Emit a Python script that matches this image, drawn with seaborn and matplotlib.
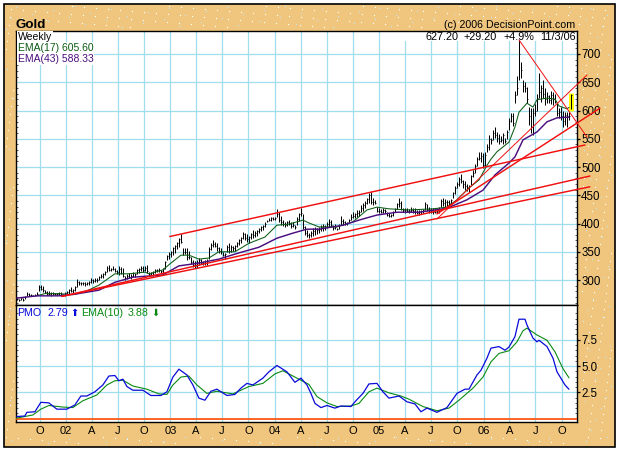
import pandas as pd
import numpy as np
import matplotlib
matplotlib.use('Agg')
import matplotlib.pyplot as plt
from matplotlib.patches import Rectangle
import seaborn as sns

# weekly bars, 10 weeks per row
high = [268, 267, 269, 268, 272, 278, 277, 275, 274, 275,
        278, 291, 292, 290, 283, 281, 280, 279, 278, 277,
        277, 279, 278, 276, 279, 280, 284, 287, 284, 290,
        301, 299, 296, 297, 296, 296, 298, 303, 302, 304,
        303, 308, 311, 312, 316, 325, 326, 322, 325, 322,
        318, 324, 323, 321, 308, 311, 312, 310, 314, 313,
        320, 322, 325, 324, 324, 326, 315, 314, 316, 320,
        320, 321, 318, 322, 334, 345, 350, 352, 358, 362,
        368, 375, 381, 357, 356, 357, 352, 340, 336, 334,
        336, 339, 338, 334, 335, 337, 358, 366, 371, 368,
        366, 358, 356, 350, 348, 362, 366, 362, 360, 362,
        368, 372, 376, 385, 383, 381, 378, 384, 388, 386,
        388, 392, 396, 398, 403, 407, 409, 411, 412, 412,
        426, 420, 414, 406, 402, 404, 406, 402, 402, 398,
        412, 418, 427, 416, 396, 388, 384, 386, 392, 394,
        392, 393, 397, 400, 398, 402, 408, 406, 397, 400,
        392, 400, 413, 408, 404, 403, 408, 416, 420, 419,
        424, 424, 432, 436, 440, 446, 454, 456, 445, 441,
        430, 427, 426, 428, 426, 420, 418, 417, 422, 428,
        436, 445, 440, 428, 428, 427, 426, 429, 427, 428,
        424, 424, 424, 425, 438, 434, 430, 428, 428, 426,
        428, 430, 443, 446, 443, 442, 441, 444, 456, 466,
        473, 482, 488, 477, 476, 470, 468, 486, 494, 505,
        518, 527, 526, 524, 526, 540, 556, 552, 566, 571,
        562, 558, 555, 560, 552, 566, 586, 596, 596, 634,
        661, 725, 686, 654, 650, 642, 606, 604, 604, 612,
        630, 666, 645, 654, 640, 633, 628, 634, 632, 630,
        613, 605, 606, 600, 598, 598, 597, 629]
low = [264, 263, 265, 263, 267, 271, 272, 272, 271, 272,
       273, 281, 283, 279, 277, 274, 273, 272, 274, 273,
       273, 274, 273, 271, 272, 274, 276, 278, 277, 281,
       287, 291, 291, 291, 290, 292, 291, 294, 295, 296,
       296, 300, 303, 304, 309, 315, 316, 316, 317, 314,
       310, 309, 311, 305, 300, 301, 303, 302, 305, 306,
       310, 312, 316, 314, 316, 313, 308, 309, 308, 313,
       314, 315, 313, 312, 320, 335, 338, 340, 345, 348,
       355, 358, 365, 345, 346, 336, 338, 328, 323, 322,
       322, 327, 328, 326, 327, 326, 338, 354, 358, 358,
       352, 348, 346, 342, 338, 350, 348, 350, 351, 352,
       358, 362, 366, 372, 370, 368, 366, 372, 374, 376,
       378, 384, 387, 388, 394, 402, 404, 405, 406, 406,
       411, 402, 398, 396, 394, 396, 397, 392, 393, 391,
       397, 404, 414, 390, 380, 376, 375, 376, 378, 380,
       382, 384, 386, 386, 388, 392, 394, 394, 388, 390,
       388, 391, 398, 398, 398, 397, 403, 406, 410, 410,
       411, 414, 420, 422, 428, 434, 436, 434, 433, 434,
       420, 419, 418, 418, 419, 413, 412, 412, 414, 420,
       426, 430, 424, 420, 419, 420, 418, 420, 418, 417,
       416, 415, 416, 418, 424, 422, 418, 418, 416, 418,
       418, 419, 430, 431, 430, 431, 432, 434, 445, 453,
       462, 466, 472, 463, 460, 458, 456, 468, 482, 490,
       502, 512, 508, 498, 502, 526, 530, 540, 548, 552,
       544, 540, 544, 541, 542, 549, 565, 580, 572, 613,
       628, 654, 657, 632, 632, 613, 575, 560, 557, 590,
       600, 622, 615, 622, 610, 613, 614, 612, 610, 613,
       590, 586, 583, 571, 575, 571, 583, 603]
close = [266, 264, 268, 265, 270, 276, 274, 273, 272, 274,
         276, 288, 285, 282, 279, 276, 275, 277, 275, 275,
         276, 277, 275, 274, 277, 278, 282, 280, 282, 288,
         296, 294, 294, 294, 293, 295, 296, 300, 298, 300,
         300, 305, 308, 310, 314, 322, 318, 320, 319, 316,
         314, 320, 313, 308, 303, 308, 306, 308, 312, 310,
         318, 320, 322, 318, 322, 316, 310, 312, 314, 318,
         317, 318, 316, 320, 332, 342, 346, 350, 356, 360,
         366, 372, 368, 350, 350, 340, 340, 332, 326, 330,
         332, 336, 331, 330, 333, 334, 355, 362, 364, 360,
         356, 352, 350, 344, 346, 358, 352, 358, 356, 360,
         366, 370, 374, 382, 374, 372, 376, 382, 380, 384,
         386, 390, 394, 396, 400, 405, 407, 409, 408, 410,
         416, 406, 402, 400, 398, 402, 400, 396, 398, 394,
         408, 416, 418, 394, 384, 380, 380, 384, 386, 390,
         388, 390, 394, 396, 394, 400, 402, 398, 392, 394,
         390, 398, 404, 402, 400, 401, 406, 412, 414, 416,
         418, 420, 428, 432, 436, 444, 450, 438, 438, 436,
         423, 422, 420, 424, 422, 415, 414, 415, 420, 426,
         434, 436, 426, 424, 424, 423, 422, 424, 422, 420,
         418, 420, 422, 424, 434, 426, 422, 420, 420, 420,
         422, 426, 440, 436, 438, 438, 436, 442, 454, 462,
         470, 478, 476, 470, 466, 464, 466, 484, 490, 502,
         514, 516, 520, 504, 522, 536, 550, 548, 560, 556,
         552, 546, 548, 556, 546, 562, 582, 590, 578, 628,
         640, 700, 672, 644, 640, 620, 590, 570, 596, 600,
         622, 632, 640, 630, 620, 626, 618, 628, 620, 616,
         596, 598, 590, 582, 592, 590, 590, 627]
dates = pd.date_range(end='2006-11-03', periods=len(high), freq='7D')

# moving averages, read at the week numbers next to them
ema17_weeks = [10, 14, 21, 28, 34, 41, 49, 56, 64, 66, 73, 77, 82, 86, 91, 96, 101,
               109, 116, 124, 130, 136, 143, 146, 151, 160, 168, 175, 180, 186, 196, 208,
               215, 220, 226, 231, 235, 237, 240, 246, 249, 251, 255, 258, 260, 265, 269,
               271, 275, 276]
ema17 = [272, 276, 276, 274, 279, 291, 311, 311, 314, 311, 318, 330, 344, 344, 337, 339, 350,
         350, 365, 376, 397, 399, 406, 401, 394, 394, 403, 424, 429, 426, 424, 426,
         429, 442, 463, 477, 503, 514, 527, 544, 571, 597, 613, 606, 619, 622, 620,
         608, 603, 605.6]
ema43_weeks = [0, 10, 21, 29, 41, 49, 58, 73, 81, 91, 101, 111, 121, 130, 138, 145,
               151, 163, 171, 180, 190, 201, 215, 225, 233, 239, 246, 249, 253, 260, 265, 270, 276]
ema43 = [268, 272, 272, 275, 282, 296, 305, 309, 325, 330, 337, 348, 358, 374, 383, 390,
         390, 397, 406, 415, 420, 420, 427, 442, 459, 486, 507, 518, 548, 562, 580, 587, 588.33]

pmo_weeks = [0, 4, 5, 9, 12, 16, 20, 25, 29, 32, 35, 39, 43, 46, 49, 51, 53, 55, 58, 63, 67,
             72, 75, 78, 81, 85, 88, 91, 94, 97, 100, 105, 109, 112, 115, 118, 123, 126, 130,
             135, 139, 142, 145, 147, 149, 152, 155, 159, 162, 167, 169, 173, 176, 180, 183,
             186, 191, 195, 199, 202, 205, 210, 215, 220, 224, 226, 230, 232, 235, 237, 241, 244,
             246, 249, 251, 254, 255, 258, 260, 261, 265, 268, 270, 274, 276]
pmo = [0.2, 0.25, 0.6, 0.65, 1.55, 1.5, 0.9, 0.9, 1.3, 2.15, 2.15, 2.55, 3.2, 4.05, 4.1, 3.6, 3.75,
       3.05, 2.7, 2.7, 2.2, 2.2, 2.55, 3.95, 4.7, 4.15, 3.2, 1.95, 1.75, 2.6, 2.8, 2.2, 2.3,
       2.9, 3.35, 3.2, 3.85, 4.45, 5.05, 4.45, 3.45, 3.85, 3.2, 2.4, 1.45, 1.05, 1.25, 1.0, 1.2, 1.15,
       1.6, 2.4, 3.3, 3.35, 2.55, 1.95, 2.15, 1.6, 1.4, 0.65, 1.0, 0.6, 1.05, 2.4, 2.8, 2.8, 4.15,
       4.6, 5.75, 6.7, 6.85, 6.5, 6.8, 7.8, 9.45, 9.45, 8.9, 7.65, 7.3, 7.45, 6.85, 5.75, 4.45, 3.2, 2.79]

signal_weeks = [0, 8, 12, 16, 23, 28, 33, 40, 45, 49, 53, 58, 65, 71, 75, 78, 82, 86, 90,
                95, 100, 108, 116, 123, 129, 133, 138, 146, 150, 155, 160, 167, 171, 176,
                180, 186, 192, 196, 203, 210, 216, 221, 228, 233, 237, 241, 246, 250, 253,
                255, 260, 265, 269, 273, 276]
signal = [0.05, 0.35, 0.9, 1.25, 1.1, 1.05, 1.7, 2.25, 3.2, 3.6, 3.65, 3.1, 2.8, 2.35, 2.3, 3.2,
          3.95, 4.05, 3.2, 2.4, 2.6, 2.35, 3.05, 3.35, 4.25, 4.55, 4.05, 3.25, 2.1, 1.5, 1.15, 1.2,
          1.45, 2.55, 2.9, 2.45, 2.15, 1.85, 1.15, 0.75, 1.0, 1.75, 2.9, 3.95, 5.4, 6.2, 6.45,
          7.3, 8.35, 8.6, 7.95, 7.45, 6.35, 4.75, 3.88]

# trend lines: start date, end date, start value, end value
trend_wide = [('2002-12-30', '2006-12-22', 377, 539),
              ('2001-12-17', '2007-01-08', 271, 484),
              ('2001-12-17', '2007-01-08', 271, 465),
              ('2005-07-22', '2007-02-12', 417, 604)]
trend_thin = [('2005-07-22', '2006-12-29', 408, 663),
              ('2006-05-05', '2006-12-29', 725, 553)]

tick_dates = pd.date_range('2001-10-01', '2006-10-01', freq='QS')
tick_labels = ['O', '02', 'A', 'J', 'O', '03', 'A', 'J', 'O', '04', 'A', 'J', 'O', '05', 'A', 'J',
               'O', '06', 'A', 'J', 'O']
price_ticks = [300, 350, 400, 450, 500, 550, 600, 650, 700]
pmo_ticks = [2.5, 5.0, 7.5]

sns.set_theme(style='white')
plt.rcParams['font.family'] = ['Liberation Sans', 'DejaVu Sans']

W, H = 618, 450
grid_col = '#A0DDEF'
tan = '#F0C67E'

fig = plt.figure(figsize=(W / 100, H / 100), dpi=100, facecolor='white')
fig.add_artist(Rectangle((3.5 / W, 1 - 446.5 / H), 611 / W, 443 / H, transform=fig.transFigure,
                         facecolor=tan, edgecolor='black', lw=1.2, zorder=-3))

# speckled frame
px, py = np.meshgrid(np.arange(6, 612, 1), np.arange(6, 444, 1))
inframe = (px < 14) | (px > 581) | (py < 28) | (py > 436)
white_dots = inframe & ((px * 7 + py * 13) % 97 == 0)
blue_dots = inframe & ((px * 11 + py * 5) % 211 == 0)
fig.add_artist(plt.Line2D(px[white_dots] / W, 1 - py[white_dots] / H, ls='', marker='s', ms=0.8,
                          mew=0, color='white', transform=fig.transFigure, zorder=-2))
fig.add_artist(plt.Line2D(px[blue_dots] / W, 1 - py[blue_dots] / H, ls='', marker='s', ms=0.8,
                          mew=0, color='#BFE6F2', transform=fig.transFigure, zorder=-2))

ax = fig.add_axes([16 / W, 1 - 305 / H, 561 / W, 274 / H])
ax2 = fig.add_axes([16 / W, 1 - 422 / H, 561 / W, 117 / H], sharex=ax)

for a in (ax, ax2):
    a.set_facecolor('white')
    a.set_axisbelow(True)
    a.grid(True, which='major', color=grid_col, lw=0.9)
    for s in a.spines.values():
        s.set_color('black')
        s.set_linewidth(1.0)
    a.yaxis.tick_right()

# price bars
ax.vlines(dates[-1:], low[-1] - 3, high[-1] + 2, color='#FFFF00', lw=3.6, zorder=2)
ax.vlines(dates, low, high, color='black', lw=0.72, zorder=3)
ax.hlines(close, dates, dates + pd.Timedelta(days=5), color='black', lw=0.6, zorder=3)

sns.lineplot(x=dates[ema17_weeks], y=ema17, color='#0B5A12', lw=0.75, errorbar=None, ax=ax, zorder=4)
sns.lineplot(x=dates[ema43_weeks], y=ema43, color='#4B0E7E', lw=1.05, errorbar=None, ax=ax, zorder=4)

for d0, d1, v0, v1 in trend_wide:
    ax.plot(pd.to_datetime([d0, d1]), [v0, v1], color='#F01010', lw=1.05, clip_on=False, zorder=5)
for d0, d1, v0, v1 in trend_thin:
    ax.plot(pd.to_datetime([d0, d1]), [v0, v1], color='#F01010', lw=0.7, clip_on=False, zorder=5)

ax.set_ylim(255.8, 740.7)
ax.set_yticks(price_ticks)
ax.set_yticks(np.arange(260, 740, 10), minor=True)
ax.set_xlim(pd.Timestamp('2001-07-10'), pd.Timestamp('2006-11-24'))
ax.set_xticks(tick_dates)
ax.tick_params(axis='x', which='both', length=0, labelbottom=False)
ax.set_xlabel('')

# pmo panel
ax2.axhline(0, color='#FF4A00', lw=1.2, zorder=3)
sns.lineplot(x=dates[signal_weeks], y=signal, color='#0A8A12', lw=0.8, errorbar=None, ax=ax2, zorder=4)
sns.lineplot(x=dates[pmo_weeks], y=pmo, color='#0A0AD8', lw=0.9, errorbar=None, ax=ax2, zorder=5)
ax2.set_ylim(-0.32, 10.8)
ax2.set_yticks(pmo_ticks)
ax2.set_yticklabels(['2.5', '5.0', '7.5'])
ax2.set_yticks(np.arange(0.5, 10.5, 0.5), minor=True)
ax2.set_xticks(tick_dates)
ax2.set_xticklabels(tick_labels)
ax2.set_xlabel('')
ax2.tick_params(axis='x', which='major', length=0, labelsize=8, pad=3, colors='black')

for a in (ax, ax2):
    a.tick_params(axis='y', which='major', direction='out', length=2, width=0.9, right=True, left=False,
                  labelright=True, labelleft=False, labelsize=8.3, pad=1, colors='black')
    a.tick_params(axis='y', which='minor', direction='in', length=1.5, width=0.6, left=True, right=True,
                  color='#404040')

# header texts
fig.text(16 / W, 1 - 28 / H, 'Gold', fontsize=9.6, fontweight='bold', color='black', va='baseline')
fig.text(575 / W, 1 - 28 / H, '(c) 2006 DecisionPoint.com', fontsize=7.7, color='black', ha='right',
         va='baseline')
ax.add_patch(Rectangle((0.665, 0.963), 0.335, 0.037, transform=ax.transAxes, facecolor='white',
                       edgecolor='none', zorder=2))
bbox = dict(facecolor='white', edgecolor='none', pad=0.6)
for x_px, txt in [(425, '627.20'), (463, '+29.20'), (503, '+4.9%'), (540, '11/3/06')]:
    fig.text(x_px / W, 1 - 40 / H, txt, fontsize=7.8, color='black', va='baseline')
for y_px, txt, col in [(40, 'Weekly', 'black'), (51, 'EMA(17) 605.60', '#0B5A12'),
                       (62, 'EMA(43) 588.33', '#4B0E7E')]:
    fig.text(17.5 / W, 1 - y_px / H, txt, fontsize=7.5, color=col, va='baseline', bbox=bbox, zorder=6)

# pmo legend
for x_px, txt, col in [(17.5, 'PMO', '#0A0AD8'), (47, '2.79', '#0A0AD8'), (81, 'EMA(10)', '#0A8A12'),
                       (128, '3.88', '#0A8A12')]:
    fig.text(x_px / W, 1 - 316 / H, txt, fontsize=7.7, color=col, va='baseline')
fig.text(70 / W, 1 - 316 / H, '\u2b06', fontsize=7, color='#0A0AD8', va='baseline', family='DejaVu Sans')
fig.text(151 / W, 1 - 316 / H, '\u2b07', fontsize=7, color='#0A8A12', va='baseline', family='DejaVu Sans')

fig.savefig('out.png', dpi=100, facecolor='white')
